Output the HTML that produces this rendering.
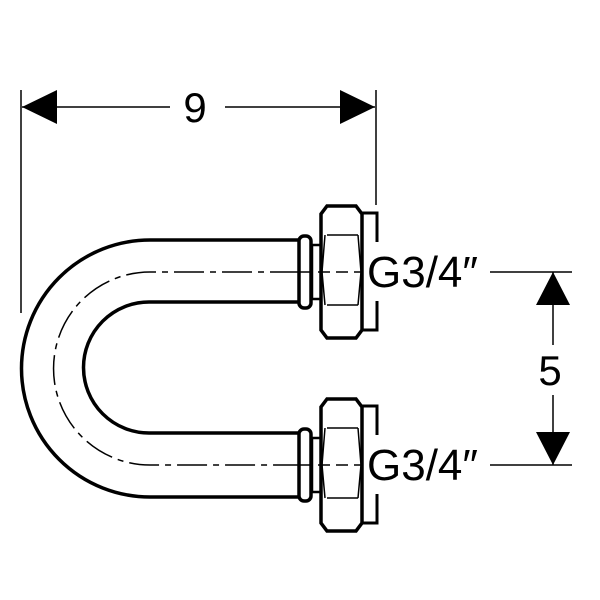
<!DOCTYPE html>
<html><head><style>body{margin:0;background:#fff}svg{display:block}</style></head><body>
<svg width="600" height="600" viewBox="0 0 600 600" xmlns="http://www.w3.org/2000/svg" font-family="Liberation Sans, sans-serif">
<g fill="none" stroke="#000">
<path d="M300 240 H150 A128.5 128.5 0 0 0 150 497 H300" stroke-width="3.5"/>
<path d="M300 302 H149 A65.5 65.5 0 0 0 149 433 H300" stroke-width="3.5"/>
<path d="M300 272 H150 A96.5 96.5 0 0 0 150 465 H300" stroke-width="1.5" stroke-dasharray="30 6 6 6"/>
<line x1="21" y1="90" x2="21" y2="313" stroke-width="1.5"/>
<line x1="376" y1="90" x2="376" y2="205" stroke-width="1.5"/>
<line x1="22" y1="107" x2="170" y2="107" stroke-width="1.5"/>
<line x1="225" y1="107" x2="375" y2="107" stroke-width="1.5"/>
<line x1="490" y1="272" x2="572" y2="272" stroke-width="1.5"/>
<line x1="490" y1="465" x2="572" y2="465" stroke-width="1.5"/>
<line x1="553" y1="272" x2="553" y2="345" stroke-width="1.5"/>
<line x1="553" y1="395" x2="553" y2="465" stroke-width="1.5"/>
</g>
<g fill="#000">
<polygon points="22,107 57,90 57,124"/>
<polygon points="375,107 340,90 340,124"/>
<polygon points="553,272 536,305 570,305"/>
<polygon points="553,465 536,432 570,432"/>
</g>
<defs>
<g id="fit" fill="#fff" stroke="#000">
<rect x="299" y="-36" width="12" height="72" rx="5" stroke-width="3.5"/>
<rect x="312" y="-27" width="9" height="54" stroke-width="2.5"/>
<path d="M327 -66 H356 L362 -58 V58 L356 66 H327 L321 58 V-58 Z" stroke-width="3.5"/>
<path d="M327 -37 H358 M327 33 H358 M325 -37 L322 0 L325 33 M358 -37 L361 0 L358 33" stroke-width="1.5" fill="none"/>
<path d="M362 -59 H377 V-30 M362 58 H377 V29" stroke-width="3" fill="none"/>
<line x1="300" y1="0" x2="362" y2="0" stroke-width="1.5" stroke-dasharray="12 6"/>
</g>
</defs>
<use href="#fit" transform="translate(0,272)"/>
<use href="#fit" transform="translate(0,465)"/>
<g font-size="42" fill="#000">
<text x="195" y="122" text-anchor="middle">9</text>
<text x="550" y="385" text-anchor="middle">5</text>
<text x="367" y="287" font-size="44">G3/4″</text>
<text x="367" y="480" font-size="44">G3/4″</text>
</g>
</svg>
</body></html>
